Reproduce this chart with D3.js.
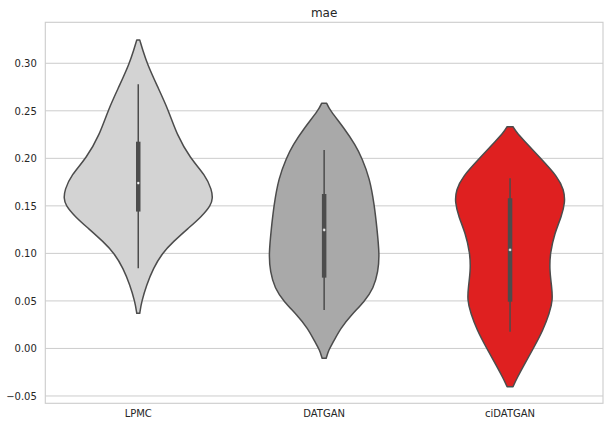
<!DOCTYPE html>
<html>
<head>
<meta charset="utf-8">
<script src="https://cdn.jsdelivr.net/npm/d3@7"></script>
<style>
  html, body { margin: 0; padding: 0; background: #ffffff; }
  svg { display: block; font-family: "DejaVu Sans", sans-serif; }
</style>
</head>
<body>
<svg id="chart" width="609" height="427"></svg>
<script>
// ---- data ----
const categories = ["LPMC", "DATGAN", "ciDATGAN"];
const fillColors = ["#d3d3d3", "#a9a9a9", "#df2020"];
const yTicks = [-0.05, 0.00, 0.05, 0.10, 0.15, 0.20, 0.25, 0.30];
const title = "mae";

// violin density profiles: value positions and relative density
const lpmcValues   = [0.3245, 0.314, 0.300, 0.277, 0.251, 0.2246, 0.200, 0.1825, 0.1667, 0.158, 0.1509, 0.1386, 0.1264, 0.1123, 0.100, 0.0843, 0.0668, 0.0492, 0.037];
const lpmcDensity  = [0.020, 0.060, 0.118, 0.250, 0.405, 0.520, 0.700, 0.900, 0.990, 1.000, 0.980, 0.850, 0.672, 0.470, 0.320, 0.202, 0.112, 0.044, 0.020];

const datganValues  = [0.258, 0.2509, 0.2316, 0.214, 0.200, 0.179, 0.1509, 0.1264, 0.0983, 0.0807, 0.0633, 0.0492, 0.0352, 0.0212, 0.0071, -0.0017, -0.0104];
const datganDensity = [0.034, 0.075, 0.270, 0.420, 0.510, 0.612, 0.675, 0.710, 0.745, 0.725, 0.665, 0.540, 0.365, 0.220, 0.125, 0.060, 0.027];

const cidatganValues  = [0.2333, 0.2277, 0.2193, 0.200, 0.1807, 0.1667, 0.154, 0.1383, 0.1215, 0.100, 0.0825, 0.065, 0.051, 0.037, 0.0194, 0.0002, -0.0174, -0.0311, -0.0402];
const cidatganDensity = [0.040, 0.085, 0.180, 0.410, 0.640, 0.725, 0.742, 0.690, 0.600, 0.538, 0.531, 0.560, 0.575, 0.530, 0.445, 0.315, 0.188, 0.094, 0.040];

// inner box statistics: [whiskerLow, q1, median, q3, whiskerHigh]
const lpmcBox     = [0.0843, 0.144, 0.174, 0.2175, 0.278];
const datganBox   = [0.0404, 0.0745, 0.1246, 0.1625, 0.2088];
const cidatganBox = [0.0176, 0.0492, 0.1036, 0.158, 0.179];

// ---- build ----
const violins = [
  { name: categories[0], values: lpmcValues, density: lpmcDensity, box: lpmcBox, color: fillColors[0] },
  { name: categories[1], values: datganValues, density: datganDensity, box: datganBox, color: fillColors[1] },
  { name: categories[2], values: cidatganValues, density: cidatganDensity, box: cidatganBox, color: fillColors[2] }
];

const svg = d3.select("#chart");
const plotLeft = 45.3, plotRight = 603, plotTop = 22.3, plotBottom = 403.3;
const gray = "#4c4c4c";
const textColor = "#262626";

const x = d3.scaleBand().domain(categories).range([plotLeft, plotRight]).paddingInner(0).paddingOuter(0);
const y = d3.scaleLinear().domain([-0.0577, 0.3431]).range([plotBottom, plotTop]);
const maxDensity = d3.max(violins, v => d3.max(v.density));
const w = d3.scaleLinear().domain([0, maxDensity]).range([0, x.bandwidth() * 0.4]);

// grid lines
svg.append("g").selectAll("line").data(yTicks).join("line")
  .attr("x1", plotLeft).attr("x2", plotRight)
  .attr("y1", d => y(d)).attr("y2", d => y(d))
  .attr("stroke", "#cccccc").attr("stroke-width", 1);

// frame
svg.append("rect")
  .attr("x", plotLeft).attr("y", plotTop)
  .attr("width", plotRight - plotLeft).attr("height", plotBottom - plotTop)
  .attr("fill", "none").attr("stroke", "#cccccc").attr("stroke-width", 1.1);

// axes (labels only, no tick marks)
const yAxis = d3.axisLeft(y).tickValues(yTicks).tickFormat(d3.format(".2f")).tickSize(0).tickPadding(8.5);
const gy = svg.append("g").attr("transform", `translate(${plotLeft},0)`).call(yAxis);
gy.select(".domain").remove();
gy.selectAll("text").attr("fill", textColor).style("font-size", "10px").style("font-family", "DejaVu Sans, sans-serif");

const xAxis = d3.axisBottom(x).tickSize(0).tickPadding(6.5);
const gx = svg.append("g").attr("transform", `translate(0,${plotBottom})`).call(xAxis);
gx.select(".domain").remove();
gx.selectAll("text").attr("fill", textColor).style("font-size", "10px").style("font-family", "DejaVu Sans, sans-serif");

// violins
const g = svg.append("g");
violins.forEach(v => {
  const cx = x(v.name) + x.bandwidth() / 2;
  const pts = v.values.map((val, i) => ({ val, d: v.density[i] }));
  const area = d3.area()
    .y(p => y(p.val))
    .x0(p => cx - w(p.d))
    .x1(p => cx + w(p.d))
    .curve(d3.curveBasis);
  g.append("path")
    .attr("d", area(pts))
    .attr("fill", v.color)
    .attr("stroke", gray)
    .attr("stroke-width", 1.5)
    .attr("stroke-linejoin", "round");

  const [lo, q1, med, q3, hi] = v.box;
  g.append("line")
    .attr("x1", cx).attr("x2", cx)
    .attr("y1", y(lo)).attr("y2", y(hi))
    .attr("stroke", gray).attr("stroke-width", 1.5);
  g.append("line")
    .attr("x1", cx).attr("x2", cx)
    .attr("y1", y(q1)).attr("y2", y(q3))
    .attr("stroke", gray).attr("stroke-width", 4.5);
  g.append("circle")
    .attr("cx", cx).attr("cy", y(med)).attr("r", 1.4)
    .attr("fill", "#ffffff").attr("stroke", gray).attr("stroke-width", 0.4);
});

// title
svg.append("text")
  .attr("x", (plotLeft + plotRight) / 2).attr("y", 16.5)
  .attr("text-anchor", "middle")
  .attr("fill", textColor)
  .style("font-size", "12px")
  .text(title);
</script>
</body>
</html>
